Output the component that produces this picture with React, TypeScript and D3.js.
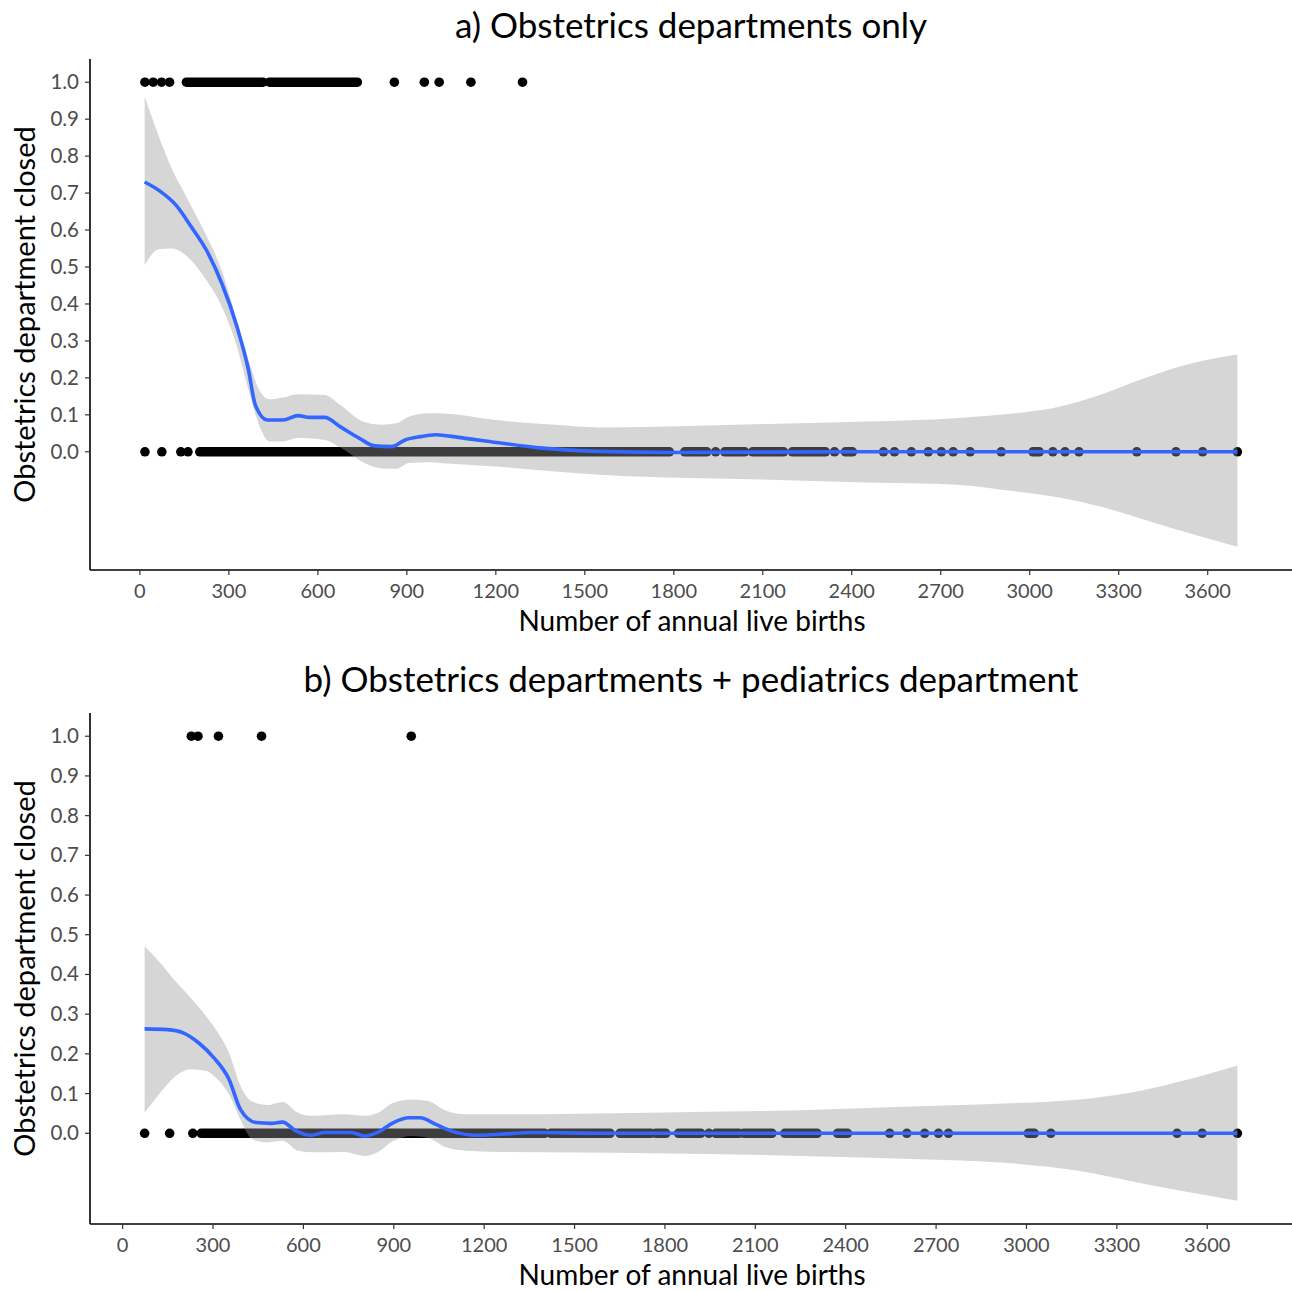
import React from "react";
import * as d3 from "d3";

// panel a) obstetrics only
const aClosedSingles = [17, 45, 73, 100, 858, 959, 1009, 1116, 1290];
const aClosedRuns = [[157, 415], [437, 733]];
const aOpenSingles = [17, 74, 138, 162, 1941, 2342, 2507, 2544, 2601, 2658, 2702, 2742, 2799, 2904, 3078, 3119, 3166, 3361, 3493, 3583, 3700];
const aOpenRuns = [[202, 1785], [1837, 1911], [1972, 2039], [2066, 2170], [2200, 2311], [2379, 2402], [3011, 3032]];
const aFitX = [16, 70, 121, 173, 224, 276, 327, 366, 389, 430, 482, 533, 572, 623, 675, 739, 791, 849, 894, 945, 997, 1074, 1203, 1357, 1548, 1800, 2400, 3000, 3700];
const aFitY = [0.73, 0.704, 0.668, 0.609, 0.546, 0.456, 0.339, 0.222, 0.127, 0.086, 0.086, 0.098, 0.093, 0.093, 0.068, 0.037, 0.016, 0.014, 0.032, 0.041, 0.046, 0.039, 0.025, 0.01, 0.001, -0.002, 0, 0, 0];
const aBandX = [16, 63, 108, 160, 224, 276, 327, 366, 404, 437, 482, 533, 623, 675, 752, 817, 864, 907, 976, 1036, 1200, 1400, 1550, 1850, 2150, 2450, 2750, 2950, 3100, 3250, 3400, 3550, 3700];
const aUpper = [0.962, 0.855, 0.765, 0.685, 0.585, 0.49, 0.355, 0.25, 0.165, 0.142, 0.147, 0.156, 0.154, 0.127, 0.082, 0.073, 0.077, 0.095, 0.104, 0.103, 0.086, 0.073, 0.066, 0.07, 0.076, 0.082, 0.091, 0.104, 0.122, 0.158, 0.203, 0.24, 0.263];
const aLower = [0.505, 0.548, 0.55, 0.528, 0.465, 0.393, 0.285, 0.168, 0.068, 0.028, 0.028, 0.037, 0.032, 0.012, -0.028, -0.045, -0.046, -0.03, -0.028, -0.032, -0.04, -0.053, -0.062, -0.071, -0.076, -0.083, -0.089, -0.107, -0.124, -0.151, -0.187, -0.223, -0.257];

// panel b) obstetrics + pediatrics
const bClosedSingles = [228, 250, 318, 461, 958];
const bClosedRuns: number[][] = [];
const bOpenSingles = [73, 156, 233, 1946, 2546, 2603, 2662, 2708, 2741, 3081, 3500, 3583, 3700];
const bOpenRuns = [[261, 1400], [1421, 1618], [1651, 1753], [1770, 1803], [1845, 1919], [1969, 2045], [2062, 2155], [2198, 2305], [2373, 2406], [3006, 3026]];
const bFitX = [73, 150, 201, 252, 303, 353, 391, 442, 493, 531, 575, 626, 670, 759, 804, 848, 899, 950, 988, 1038, 1089, 1178, 1241, 1368, 1600, 3700];
const bFitY = [0.263, 0.261, 0.253, 0.228, 0.19, 0.136, 0.06, 0.027, 0.025, 0.028, 0.006, -0.005, 0.002, 0.002, -0.007, 0.003, 0.027, 0.039, 0.039, 0.023, 0.006, -0.005, -0.003, 0.002, 0, 0];
const bBandX = [73, 125, 176, 227, 277, 315, 353, 391, 430, 480, 531, 582, 632, 734, 804, 848, 899, 962, 1013, 1076, 1140, 1250, 1750, 2250, 2590, 2925, 3177, 3344, 3512, 3700];
const bUpper = [0.471, 0.429, 0.382, 0.34, 0.295, 0.255, 0.203, 0.12, 0.08, 0.071, 0.079, 0.052, 0.044, 0.048, 0.044, 0.052, 0.077, 0.085, 0.081, 0.056, 0.048, 0.048, 0.052, 0.058, 0.067, 0.075, 0.085, 0.102, 0.131, 0.171];
const bLower = [0.052, 0.102, 0.144, 0.161, 0.157, 0.136, 0.098, 0.035, -0.015, -0.023, -0.019, -0.044, -0.048, -0.047, -0.057, -0.047, -0.019, -0.007, -0.011, -0.036, -0.044, -0.047, -0.05, -0.057, -0.064, -0.074, -0.095, -0.12, -0.145, -0.17];

const xTicks = d3.range(0, 3601, 300);
const yTicks = d3.range(0, 11).map(d => d / 10);

const FONT = "Lato, 'Open Sans', sans-serif";
const W = 1292;
const left = 90;
const right = 1292;
const R = 4.8;

const Panel = ({ top, title, closedSingles, closedRuns, openSingles, openRuns, fitX, fitY, bandX, upper, lower }) => {
  const bottom = top + 511;

  // ggplot style 5% expansion of the data range
  const allX = [...closedSingles, ...openSingles, ...closedRuns.flat(), ...openRuns.flat(), ...bandX];
  const [x0, x1] = d3.extent(allX);
  const xPad = (x1 - x0) * 0.05;
  const xScale = d3.scaleLinear().domain([x0 - xPad, x1 + xPad]).range([left, right]);

  const y0 = Math.min(d3.min(lower), 0);
  const y1 = 1;
  const yPad = (y1 - y0) * 0.05;
  const yScale = d3.scaleLinear().domain([y0 - yPad, y1 + yPad]).range([bottom, top]);

  const band = d3
    .area<number>()
    .x(i => xScale(bandX[i]))
    .y0(i => yScale(lower[i]))
    .y1(i => yScale(upper[i]))
    .curve(d3.curveMonotoneX);
  const fit = d3
    .line<number>()
    .x(i => xScale(fitX[i]))
    .y(i => yScale(fitY[i]))
    .curve(d3.curveMonotoneX);

  const runs = (list, yv, key) =>
    list.map((r, i) => (
      <line key={key + i} x1={xScale(r[0])} x2={xScale(r[1])} y1={yScale(yv)} y2={yScale(yv)}
        stroke="black" strokeWidth={R * 2} strokeLinecap="round" />
    ));
  const dots = (list, yv, key) =>
    list.map((v, i) => <circle key={key + i} cx={xScale(v)} cy={yScale(yv)} r={R} fill="black" />);

  return (
    <g>
      <text x={(left + right) / 2} y={top - 21} textAnchor="middle" fontSize={35} fontFamily={FONT} fill="black">
        {title}
      </text>

      {runs(closedRuns, 1, "cr")}
      {dots(closedSingles, 1, "cs")}
      {runs(openRuns, 0, "or")}
      {dots(openSingles, 0, "os")}

      <path d={band(d3.range(bandX.length))} fill="#999999" fillOpacity={0.4} />
      <path d={fit(d3.range(fitX.length))} fill="none" stroke="#3366FF" strokeWidth={3.6} />

      {/* axes */}
      <line x1={left} x2={right} y1={bottom} y2={bottom} stroke="black" strokeWidth={1.6} />
      <line x1={left} x2={left} y1={top} y2={bottom} stroke="black" strokeWidth={1.6} />
      {xTicks.map(t => (
        <g key={"xt" + t}>
          <line x1={xScale(t)} x2={xScale(t)} y1={bottom} y2={bottom + 5} stroke="#333333" strokeWidth={1.2} />
          <text x={xScale(t)} y={bottom + 28} textAnchor="middle" fontSize={20} fontFamily={FONT} fill="#4d4d4d">
            {t}
          </text>
        </g>
      ))}
      {yTicks.map(t => (
        <g key={"yt" + t}>
          <line x1={left - 5} x2={left} y1={yScale(t)} y2={yScale(t)} stroke="#333333" strokeWidth={1.2} />
          <text x={left - 11} y={yScale(t) + 7} textAnchor="end" fontSize={20.5} fontFamily={FONT} fill="#4d4d4d">
            {d3.format(".1f")(t)}
          </text>
        </g>
      ))}
      <text x={692} y={bottom + 61} textAnchor="middle" fontSize={28} fontFamily={FONT} fill="black">
        Number of annual live births
      </text>
      <text transform={`translate(35, ${(top + bottom) / 2}) rotate(-90)`} textAnchor="middle" fontSize={29}
        fontFamily={FONT} fill="black">
        Obstetrics department closed
      </text>
    </g>
  );
};

export default function App() {
  return (
    <svg width={W} height={1291} style={{ position: "absolute", left: 0, top: 0, background: "white" }}>
      <rect width={W} height={1291} fill="white" />
      <Panel top={59} title="a) Obstetrics departments only"
        closedSingles={aClosedSingles} closedRuns={aClosedRuns} openSingles={aOpenSingles} openRuns={aOpenRuns}
        fitX={aFitX} fitY={aFitY} bandX={aBandX} upper={aUpper} lower={aLower} />
      <Panel top={713} title="b) Obstetrics departments + pediatrics department"
        closedSingles={bClosedSingles} closedRuns={bClosedRuns} openSingles={bOpenSingles} openRuns={bOpenRuns}
        fitX={bFitX} fitY={bFitY} bandX={bBandX} upper={bUpper} lower={bLower} />
    </svg>
  );
}
